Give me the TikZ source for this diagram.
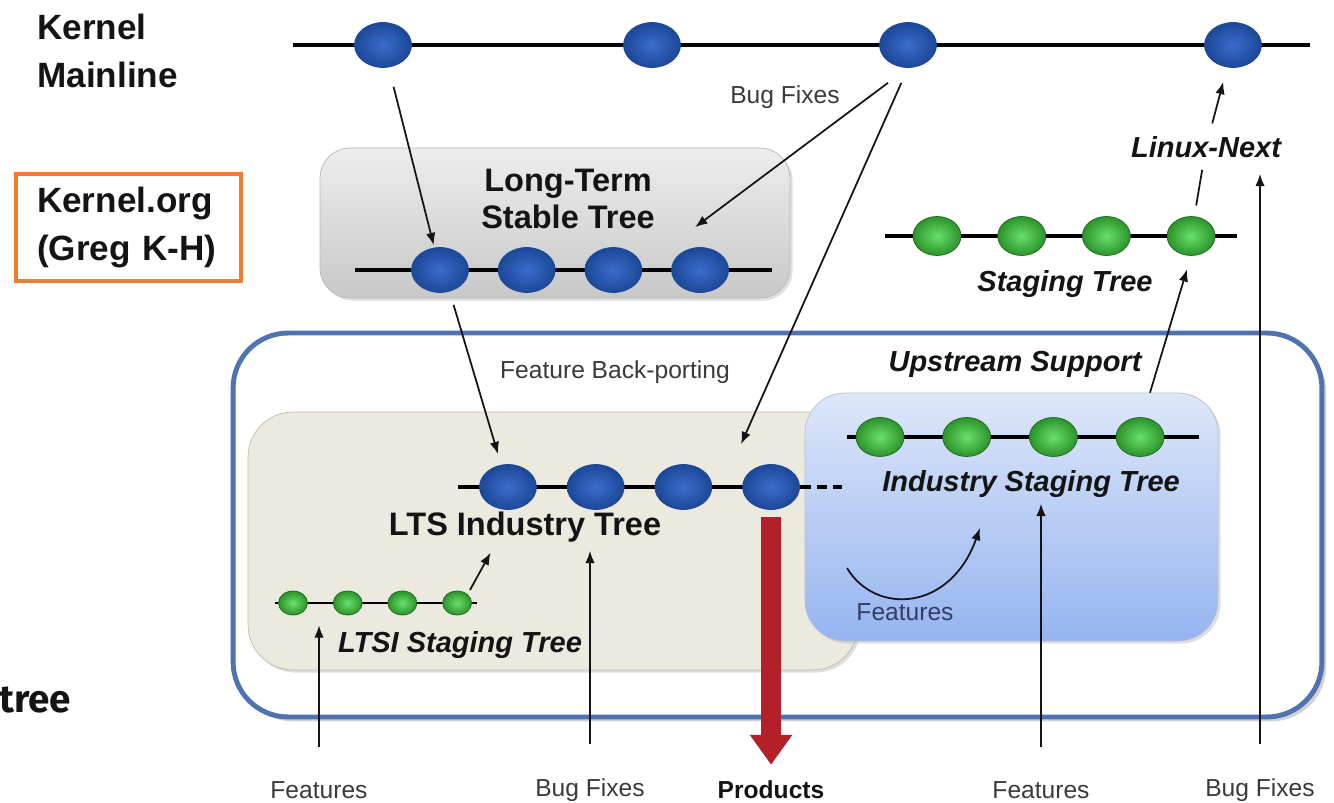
\documentclass[tikz,border=0pt]{standalone}
\usepackage{fontspec}
\setmainfont{Liberation Sans}
\newfontfamily\slidefont{Fira Sans}
\usepackage{xcolor}
\usepackage{tikz}
\usetikzlibrary{arrows.meta,backgrounds,positioning,shapes.geometric,shadows}
\definecolor{ink}{HTML}{141414}
\definecolor{muted}{HTML}{3A3A3A}
\definecolor{dotblue}{HTML}{3A6CCB}
\definecolor{dotblueedge}{HTML}{1D4898}
\definecolor{dotgreen}{HTML}{6AE06A}
\definecolor{dotgreenedge}{HTML}{2B932B}
\definecolor{frame}{HTML}{4E73AE}
\definecolor{orgorange}{HTML}{ED7D31}
\definecolor{ltstop}{HTML}{EDEDED}
\definecolor{ltsbot}{HTML}{C8C8C8}
\definecolor{beige}{HTML}{ECEADF}
\definecolor{beigeedge}{HTML}{BEBCAF}
\definecolor{stagetop}{HTML}{DDE7F9}
\definecolor{stagebot}{HTML}{95B4F0}
\definecolor{stageedge}{HTML}{B5C1D6}
\definecolor{prodred}{HTML}{B3202A}
\definecolor{featblue}{HTML}{2F3F66}
\tikzset{
  bluedot/.style={ellipse, minimum width=1.14cm, minimum height=0.9cm, inner sep=0pt,
    inner color=dotblue, outer color=dotblueedge, draw=dotblueedge, line width=0.4pt},
  greendot/.style={ellipse, minimum width=0.96cm, minimum height=0.78cm, inner sep=0pt,
    inner color=dotgreen, outer color=dotgreenedge, draw=dotgreenedge!70!black, line width=0.4pt},
  tinydot/.style={greendot, minimum width=0.58cm, minimum height=0.48cm},
  treeline/.style={draw=black, line width=2.2pt},
  heading/.style={font=\fontsize{20}{27}\selectfont\bfseries, text=ink, align=left, inner sep=0pt},
  orgbox/.style={heading, draw=orgorange, line width=2.3pt, text width=3.66cm,
    inner xsep=0.42cm, minimum height=2.14cm},
  treename/.style={font=\fontsize{18.5}{21.5}\selectfont\bfseries, text=ink, align=center},
  stagename/.style={font=\fontsize{16.5}{20}\selectfont\bfseries\itshape, text=ink},
  tag/.style={font=\fontsize{14}{16}\selectfont, text=muted},
  flow/.style={-{Latex[length=7pt,width=5.4pt]}, draw=ink, line width=1pt},
  link/.style={draw=ink, line width=1pt},
  prodflow/.style={-{Triangle[length=17pt,width=23pt]}, draw=prodred, line width=11pt},
  outerbox/.style={draw=frame, line width=2.8pt, fill=white, rounded corners=1.1cm,
    drop shadow={shadow xshift=2.5pt, shadow yshift=-2.5pt, fill=black!35}},
  ltsbox/.style={draw=black!28, rounded corners=0.6cm, top color=ltstop, bottom color=ltsbot,
    drop shadow={shadow xshift=1.5pt, shadow yshift=-1.5pt, fill=black!25}},
  indbox/.style={draw=beigeedge, rounded corners=0.9cm, fill=beige,
    drop shadow={shadow xshift=1.5pt, shadow yshift=-1.5pt, fill=black!25}},
  stagebox/.style={draw=stageedge, rounded corners=0.8cm, top color=stagetop, bottom color=stagebot,
    drop shadow={shadow xshift=1.5pt, shadow yshift=-1.5pt, fill=black!25}}
}
\begin{document}
\begin{tikzpicture}[x=0.02cm, y=-0.02cm]
  \useasboundingbox (0,0) rectangle (1334,803);

  % boxes
  \begin{scope}[on background layer]
    \node[outerbox, minimum width=21.78cm, minimum height=7.68cm] (upbox) at (777.5,525) {};
    \node[ltsbox, minimum width=9.4cm, minimum height=3cm] (ltsbox) at (555,223) {};
    \node[indbox, minimum width=12.2cm, minimum height=5.16cm] (indbox) at (553,541) {};
    \node[stagebox, minimum width=8.26cm, minimum height=4.96cm] (stagebox) at (1011.5,517) {};
  \end{scope}

  % left side labels
  \node[heading, anchor=west] (mainhead) at (37,51) {Kernel\\Mainline};
  \node[orgbox] (kernelorg) at (128.5,227.5) {Kernel.org\\(Greg K-H)};
  \node[font=\slidefont\fontsize{22}{26}\selectfont\bfseries, text=ink, anchor=base west, inner sep=0pt] (treecut) at (-1,712) {tree};

  % mainline
  \node[bluedot] (m1) at (383,45) {};
  \node[bluedot] (m2) at (652,45) {};
  \node[bluedot] (m3) at (908,45) {};
  \node[bluedot] (m4) at (1233,45) {};

  % long-term stable tree
  \node[bluedot] (l1) at (440,270) {};
  \node[bluedot, right=0.58cm of l1] (l2) {};
  \node[bluedot, right=0.58cm of l2] (l3) {};
  \node[bluedot, right=0.58cm of l3] (l4) {};
  \node[treename] (ltsname) at (568,199) {Long-Term\\Stable Tree};

  % LTS industry tree
  \node[bluedot] (i1) at (508,487) {};
  \node[bluedot, right=0.6cm of i1] (i2) {};
  \node[bluedot, right=0.6cm of i2] (i3) {};
  \node[bluedot, right=0.6cm of i3] (i4) {};
  \node[treename] (indname) at (525,527) {LTS Industry Tree};

  % LTSI staging tree
  \node[tinydot] (s1) at (293,603) {};
  \node[tinydot, right=0.5cm of s1] (s2) {};
  \node[tinydot, right=0.5cm of s2] (s3) {};
  \node[tinydot, right=0.5cm of s3] (s4) {};
  \node[stagename] (lsname) at (460,645) {LTSI Staging Tree};

  % industry staging tree
  \node[greendot] (is1) at (880,437) {};
  \node[greendot, right=0.76cm of is1] (is2) {};
  \node[greendot, right=0.76cm of is2] (is3) {};
  \node[greendot, right=0.76cm of is3] (is4) {};
  \node[stagename] (isname) at (1031,484) {Industry Staging Tree};
  \node[stagename] (upname) at (1015,364) {Upstream Support};

  % staging tree
  \node[greendot] (st1) at (937,236) {};
  \node[greendot, right=0.72cm of st1] (st2) {};
  \node[greendot, right=0.72cm of st2] (st3) {};
  \node[greendot, right=0.72cm of st3] (st4) {};
  \node[stagename] (stname) at (1065,284) {Staging Tree};
  \node[stagename] (lnext) at (1206,147) {Linux-Next};

  % tree lines
  \begin{scope}[on background layer]
    \draw[treeline] ([xshift=-1.8cm]m1.center) -- ([xshift=1.54cm]m4.center);
    \draw[treeline] ([xshift=-1.7cm]l1.center) -- ([xshift=1.44cm]l4.center);
    \draw[treeline] ([xshift=-1cm]i1.center) -- ([xshift=0.6cm]i4.center);
    \draw[treeline, dash pattern=on 5.5pt off 3.5pt] ([xshift=0.6cm]i4.center) -- ([xshift=1.54cm]i4.center);
    \draw[treeline, line width=1.7pt] ([xshift=-0.36cm]s1.center) -- ([xshift=0.4cm]s4.center);
    \draw[treeline] ([xshift=-0.66cm]is1.center) -- ([xshift=1.18cm]is4.center);
    \draw[treeline] ([xshift=-1.04cm]st1.center) -- ([xshift=0.92cm]st4.center);
  \end{scope}

  % labels
  \node[tag] (bugtop) at (785,97) {Bug Fixes};
  \node[tag] (backport) at (615,372) {Feature Back-porting};
  \node[tag, text=featblue] (featin) at (905,612) {Features};
  \node[tag] (feat1) at (319,790) {Features};
  \node[tag] (bug1) at (590,790) {Bug Fixes};
  \node[tag, font=\fontsize{14}{16}\selectfont\bfseries, text=ink] (products) at (771,790) {Products};
  \node[tag] (feat2) at (1041,790) {Features};
  \node[tag] (bug2) at (1260,790) {Bug Fixes};

  % connectors
  \draw[flow, shorten <=0.4cm, shorten >=0.05cm] (m1) -- (l1);
  \draw[flow, shorten <=0.5cm] (m3.south) -- ([xshift=-0.1cm,yshift=0.4cm]l4.north);
  \draw[flow, shorten <=0.33cm] (m3.south) -- ([xshift=-0.6cm,yshift=0.4cm]i4.north);
  \draw[flow, shorten <=0.25cm] ([xshift=0.2cm]l1.south) -- ([xshift=-0.2cm,yshift=0.2cm]i1.north);
  \draw[flow, shorten <=0.1cm, shorten >=0.1cm] (s4.north east) -- ([xshift=-0.64cm]indname.south);
  \draw[flow, shorten <=0.56cm, shorten >=0.2cm] (feat1.north) -- (feat1.north |- s1.south);
  \draw[flow, shorten <=0.56cm, shorten >=0.05cm] (bug1.north) -- (bug1.north |- indname.south);
  \draw[prodflow, shorten <=0.15cm, shorten >=0.2cm] (i4.south) -- (i4.south |- products.north);
  \draw[flow, shorten <=0.56cm] (feat2.north) -- (feat2.north |- isname.south);
  \draw[flow, shorten <=0.56cm, shorten >=0.2cm] (bug2.north) -- (bug2.north |- lnext.south);
  \coordinate (curvefrom) at (847,568);
  \coordinate (curveto) at (980,528);
  \draw[flow] (curvefrom) .. controls (875,615) and (950,612) .. (curveto);
  \draw[flow, shorten >=0.28cm] ([xshift=2.77cm]stagebox.north) -- (st4.south);
  \draw[link, shorten <=0.22cm, shorten >=0.12cm] (st4) -- (lnext);
  \draw[flow, shorten <=0.14cm, shorten >=0.3cm] (lnext) -- (m4);
\end{tikzpicture}
\end{document}
